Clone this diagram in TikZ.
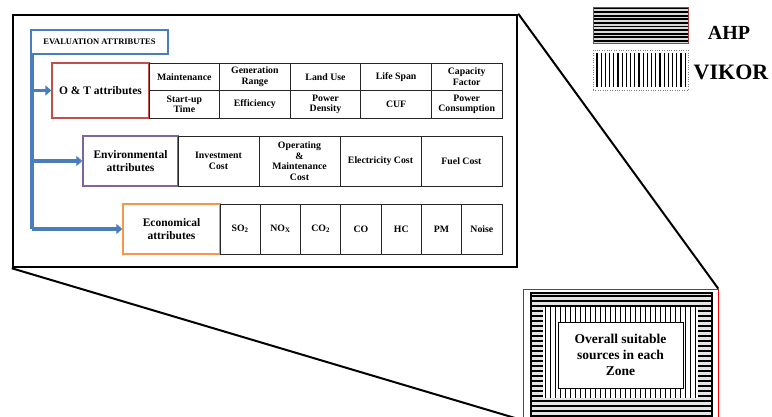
\documentclass[tikz,border=0pt]{standalone}
\usepackage{fontspec}
\setmainfont{Liberation Serif}
\usetikzlibrary{arrows.meta}
\definecolor{evalblue}{HTML}{4A7EBB}
\definecolor{otred}{HTML}{C0504D}
\definecolor{envpurple}{HTML}{8064A2}
\definecolor{ecoorange}{HTML}{F79646}
\begin{document}
\begin{tikzpicture}[x=1pt,y=-1pt,
    cell/.style={draw=black!85,line width=0.8pt,inner sep=0pt,align=center,
        font=\fontsize{9.8}{10.6}\selectfont\bfseries},
    group/.style={draw,line width=1.3pt,inner sep=0pt,align=center,
        minimum width=96pt,minimum height=50pt,font=\fontsize{11.5}{13}\selectfont\bfseries},
    feed/.style={evalblue,line width=3.5pt,-{Triangle[length=6pt,width=10pt]}}]
    \useasboundingbox (0,0) rectangle (772,417);
    % legend
    \begin{scope}
        \clip (593,7) rectangle (688,43);
        \fill[gray!30] (593,7) rectangle (688,43);
        \foreach \y in {8.5,12.1,...,43}
        {
            \draw[line width=1.9pt] (593,\y) -- (688,\y);
        };
    \end{scope}
    \node[draw=otred!80!black,line width=0.6pt,minimum width=95pt,minimum height=36pt,inner sep=0pt] (ahp) at (640.5,25) {};
    \node[font=\fontsize{20}{22}\selectfont\bfseries] (ahplabel) at (729,33) {AHP};
    \node[draw=gray,dotted,minimum width=95pt,minimum height=40pt,inner sep=0pt] (vikor) at (640.5,70) {};
    \foreach \x in {597,601.2,...,686}
    {
        \draw[line width=1.1pt] (\x,53) -- (\x,87);
    };
    \node[font=\fontsize{22}{24}\selectfont\bfseries] (vikorlabel) at (731,72) {VIKOR};
    % zoomed frame
    \node[draw,line width=2.5pt,minimum width=504pt,minimum height=252pt,inner sep=0pt] (frame) at (265,141) {};
    \node[draw=evalblue,line width=2.5pt,minimum width=137pt,minimum height=24pt,inner sep=0pt,
        font=\fontsize{8.5}{9}\selectfont\bfseries] (eval) at (99.5,42) {EVALUATION ATTRIBUTES};
    % attribute groups
    \node[group,draw=otred,minimum width=97pt,minimum height=55pt] (ot) at (100.5,90.5) {O \& T attributes};
    \node[group,draw=envpurple,minimum width=95pt] (env) at (130.5,161) {Environmental\\attributes};
    \node[group,draw=ecoorange,minimum width=97pt] (eco) at (171.5,229) {Economical\\attributes};
    \foreach \lbl [count=\i] in {Maintenance,{Generation\\Range},Land Use,Life Span,{Capacity\\Factor}}
    {
        \node[cell,minimum width=70.6pt,minimum height=27.5pt] (ott\i) at ({149+70.6*(\i-0.5)},76.75) {\lbl};
    };
    \foreach \lbl [count=\i] in {{Start-up\\Time},Efficiency,{Power\\Density},CUF,{Power\\Consumption}}
    {
        \node[cell,minimum width=70.6pt,minimum height=27.5pt] (otb\i) at ({149+70.6*(\i-0.5)},104.25) {\lbl};
    };
    \foreach \lbl [count=\i] in {{Investment\\Cost},{Operating\\\&\\Maintenance\\Cost},Electricity Cost,Fuel Cost}
    {
        \node[cell,minimum width=81pt,minimum height=50pt] (en\i) at ({178+81*(\i-0.5)},161) {\lbl};
    };
    \foreach \lbl [count=\i] in {SO\textsubscript{2},NO\textsubscript{X},CO\textsubscript{2},CO,HC,PM,Noise}
    {
        \node[cell,minimum width=40.3pt,minimum height=50pt] (ec\i) at ({220+40.29*(\i-0.5)},229) {\lbl};
    };
    % blue feeder
    \coordinate (top) at (32,54);
    \draw[evalblue,line width=3.5pt] (top) -- (top |- eco.west);
    \draw[feed] (top |- ot.west) -- (ot.west);
    \draw[feed] (top |- env.west) -- (env.west);
    \draw[feed] (top |- eco.west) -- (eco.west);
    % zone box
    \begin{scope}
        \clip (531,293) rectangle (712,425);
        \fill[gray!20] (531,293) rectangle (712,425);
        \foreach \y in {296,301,...,425}
        {
            \draw[line width=1.7pt] (531,\y) -- (712,\y);
        };
    \end{scope}
    \draw[line width=1.5pt] (531,293) rectangle (712,425);
    \fill[white] (543,307) rectangle (698,398);
    \begin{scope}
        \clip (543,307) rectangle (698,398);
        \foreach \x in {545.5,550.5,...,700}
        {
            \draw[line width=1.6pt] (\x,307) -- (\x,398);
        };
    \end{scope}
    \node[draw,fill=white,line width=1pt,minimum width=125pt,minimum height=66pt,inner sep=0pt,align=center,
        font=\fontsize{13.5}{16}\selectfont\bfseries] (zonetext) at (620.5,355) {Overall suitable\\sources in each\\Zone};
    \node[draw=red,line width=0.6pt,minimum width=195pt,minimum height=131pt,inner sep=0pt] (zone) at (620.5,354.5) {};
    % callout
    \draw[line width=2pt] (frame.south west) -- (zone.south west);
    \draw[line width=2pt] (frame.north east) -- (zone.north east);
\end{tikzpicture}
\end{document}
